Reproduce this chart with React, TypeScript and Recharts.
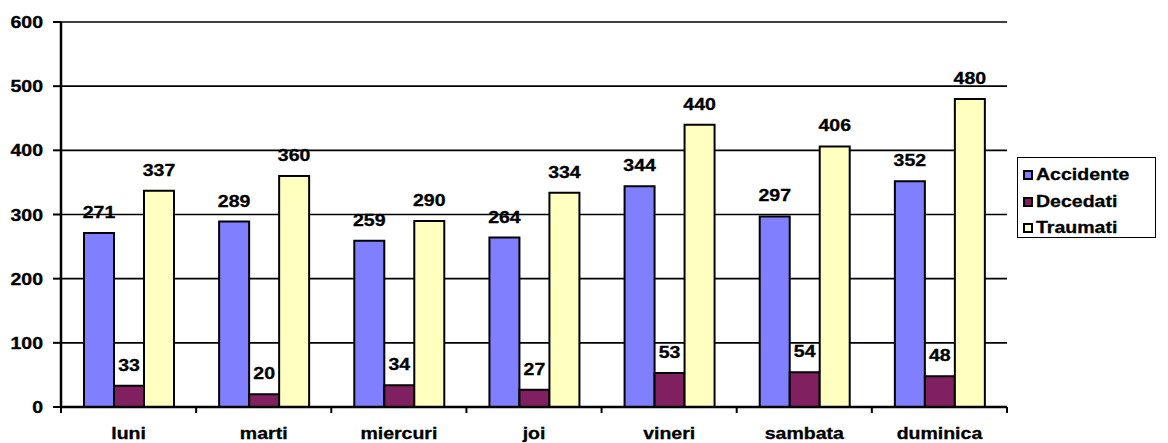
import React from 'react';
import { BarChart, Bar, XAxis, YAxis, CartesianGrid, LabelList } from 'recharts';

const categories = ['luni', 'marti', 'miercuri', 'joi', 'vineri', 'sambata', 'duminica'];
const accidente = [271, 289, 259, 264, 344, 297, 352];
const decedati = [33, 20, 34, 27, 53, 54, 48];
const traumati = [337, 360, 290, 334, 440, 406, 480];
const yTicks = [0, 100, 200, 300, 400, 500, 600];

const series = [
  { key: 'Accidente', color: '#8080FF' },
  { key: 'Decedati', color: '#802060' },
  { key: 'Traumati', color: '#FFFFC0' },
];

const data = categories.map((c, i) => ({
  name: c,
  Accidente: accidente[i],
  Decedati: decedati[i],
  Traumati: traumati[i],
}));

const W = 1168;
const H = 443;
const M = { top: 22, right: 161, left: 0, bottom: 0 };
const Y_W = 61;
const X_H = 36;
const PLOT_W = W - Y_W - M.right;
const BAND = PLOT_W / categories.length;
const SX = 1.22;
const FS = 16;
const FONT = '"Liberation Sans", Arial, sans-serif';

const SText = ({ x, y, anchor, children }: any) => (
  <text
    transform={`translate(${x},${y}) scale(${SX},1)`}
    textAnchor={anchor}
    fontFamily={FONT}
    fontWeight="bold"
    fontSize={FS}
    fill="#000"
    stroke="#000"
    strokeWidth={0.3}
  >
    {children}
  </text>
);

const YTick = (props: any) => {
  const { x, y, payload } = props;
  return <SText x={x} y={y + 6} anchor="end">{payload.value}</SText>;
};

const XTick = (props: any) => {
  const { x, y, payload, index } = props;
  const left = x - BAND / 2;
  const right = x + BAND / 2;
  return (
    <g>
      <line x1={left} y1={y} x2={left} y2={y + 6} stroke="#000" strokeWidth={2} />
      {index === categories.length - 1 && (
        <line x1={right} y1={y} x2={right} y2={y + 6} stroke="#000" strokeWidth={2} />
      )}
      <SText x={x} y={y + 32} anchor="middle">{payload.value}</SText>
    </g>
  );
};

const BarLabel = (props: any) => {
  const { x, y, width, value } = props;
  return <SText x={x + width / 2} y={y - 15} anchor="middle">{value}</SText>;
};

const LegendBox = () => (
  <div
    style={{
      position: 'absolute',
      left: 1017,
      top: 157,
      width: 139,
      height: 81,
      border: '1.5px solid #000',
      background: '#fff',
      boxSizing: 'border-box',
      fontFamily: FONT,
      fontWeight: 'bold',
      fontSize: FS,
      paddingTop: 5,
      WebkitTextStroke: '0.3px #000',
    }}
  >
    {series.map((s) => (
      <div key={s.key} style={{ height: 26.5, position: 'relative' }}>
        <div
          style={{
            position: 'absolute',
            left: 5,
            top: 7,
            width: 10,
            height: 10,
            boxSizing: 'border-box',
            border: '2px solid #000',
            background: s.color,
          }}
        />
        <span
          style={{
            position: 'absolute',
            left: 18,
            top: 3,
            transform: `scaleX(${SX})`,
            transformOrigin: 'left center',
            whiteSpace: 'nowrap',
            lineHeight: '18px',
          }}
        >
          {s.key}
        </span>
      </div>
    ))}
  </div>
);

export default function App() {
  return (
    <div style={{ position: 'absolute', left: 0, top: 0, width: W, height: H, background: '#fff' }}>
      <BarChart width={W} height={H} data={data} margin={M} barSize={30} barGap={0}>
        <CartesianGrid horizontal vertical={false} stroke="#000" strokeWidth={1.6} />
        <XAxis
          dataKey="name"
          height={X_H}
          axisLine={{ stroke: '#000', strokeWidth: 2.5 }}
          tickLine={false}
          tickSize={0}
          tickMargin={0}
          tick={<XTick />}
          interval={0}
        />
        <YAxis
          width={Y_W}
          domain={[0, 600]}
          ticks={yTicks}
          axisLine={{ stroke: '#000', strokeWidth: 2.5 }}
          tickLine={{ stroke: '#000', strokeWidth: 2 }}
          tickSize={8}
          tickMargin={10}
          tick={<YTick />}
          interval={0}
        />
        {series.map((s) => (
          <Bar
            key={s.key}
            dataKey={s.key}
            fill={s.color}
            stroke="#000"
            strokeWidth={2}
            isAnimationActive={false}
          >
            <LabelList dataKey={s.key} content={<BarLabel />} />
          </Bar>
        ))}
      </BarChart>
      <LegendBox />
    </div>
  );
}
